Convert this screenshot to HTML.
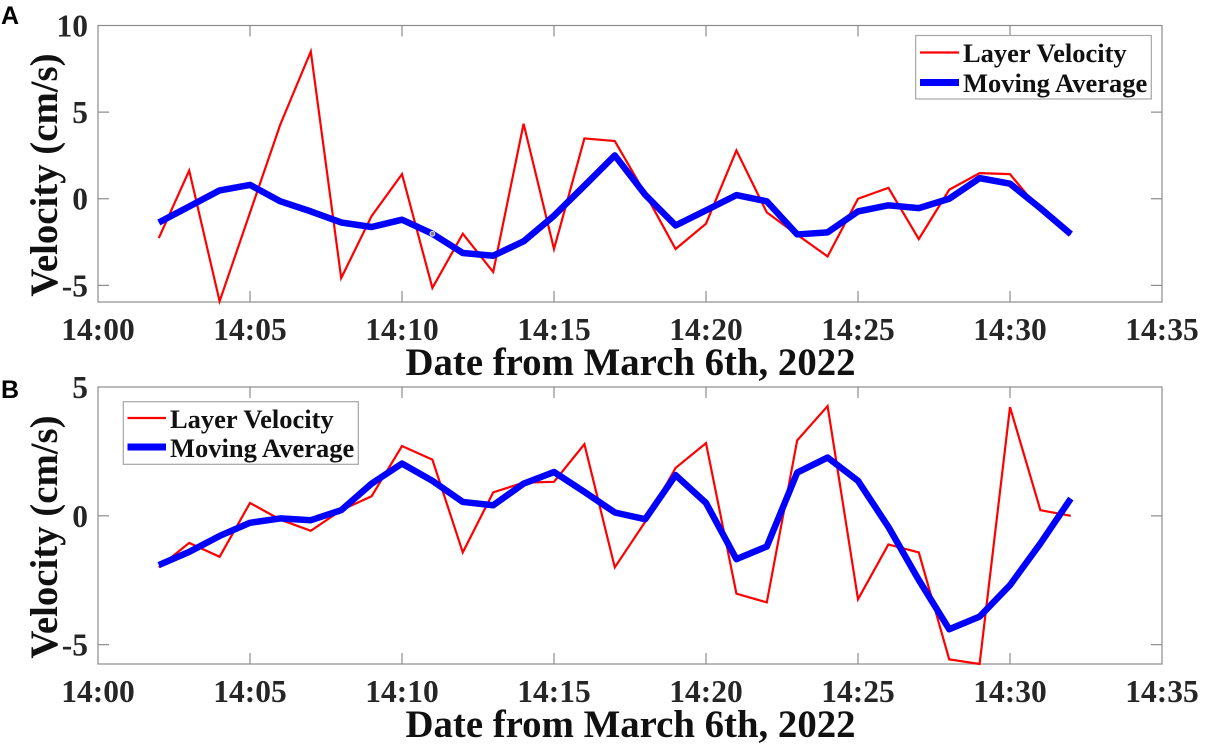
<!DOCTYPE html>
<html>
<head>
<meta charset="utf-8">
<title>Layer velocity and moving average</title>
<style>
html,body{margin:0;padding:0;background:#fff;}
svg{display:block;}
text{font-family:"Liberation Serif",serif;font-weight:bold;}
.tick{font-size:31.5px;fill:#262626;}
.title{font-size:38.8px;fill:#111;}
.legend{font-size:26.5px;fill:#111;}
.panel{font-family:"Liberation Sans",sans-serif;font-size:25px;fill:#000;}
</style>
</head>
<body>
<svg id="figure" width="1211" height="747" viewBox="0 0 1211 747" xmlns="http://www.w3.org/2000/svg">
  <rect x="0" y="0" width="1211" height="747" fill="#fff"/>
  <text class="panel" x="1" y="24">A</text>
  <text class="panel" x="1" y="398">B</text>

  <g id="plotA"></g>
  <g id="plotB"></g>

  <text class="title" x="630.5" y="375" text-anchor="middle">Date from March 6th, 2022</text>
  <text class="title" transform="translate(57 175) rotate(-90)" text-anchor="middle">Velocity (cm/s)</text>
  <text class="title" x="630.5" y="737" text-anchor="middle">Date from March 6th, 2022</text>
  <text class="title" transform="translate(57 537) rotate(-90)" text-anchor="middle">Velocity (cm/s)</text>

  <g>
    <rect x="915.7" y="35.5" width="235.6" height="63.5" fill="#fff" stroke="#a6a6a6" stroke-width="1.2"/>
    <line x1="920" y1="52.5" x2="959" y2="52.5" stroke="#f00" stroke-width="2.2"/>
    <text class="legend" x="963" y="62">Layer Velocity</text>
    <line x1="920" y1="82.5" x2="959" y2="82.5" stroke="#00f" stroke-width="7"/>
    <text class="legend" x="963" y="92">Moving Average</text>
  </g>
  <g>
    <rect x="123.3" y="401.7" width="235" height="62.6" fill="#fff" stroke="#a6a6a6" stroke-width="1.2"/>
    <line x1="127.5" y1="418" x2="166" y2="418" stroke="#f00" stroke-width="2.2"/>
    <text class="legend" x="170" y="428">Layer Velocity</text>
    <line x1="127.5" y1="447" x2="166" y2="447" stroke="#00f" stroke-width="7"/>
    <text class="legend" x="170" y="457">Moving Average</text>
  </g>
</svg>
<script>
var minutes = [2,3,4,5,6,7,8,9,10,11,12,13,14,15,16,17,18,19,20,21,22,23,24,25,26,27,28,29,30,31,32];
var xTickValues = [0,5,10,15,20,25,30,35];
var xTickLabels = ["14:00","14:05","14:10","14:15","14:20","14:25","14:30","14:35"];
var xDomain = [0,35];

var layerVelocityA = [-2.27,1.63,-5.92,-0.8,4.3,8.5,-4.58,-1.0,1.42,-5.15,-2.02,-4.23,4.33,-2.9,3.48,3.33,0.3,-2.9,-1.44,2.79,-0.79,-2.08,-3.33,0,0.63,-2.33,0.52,1.48,1.42,-0.7,-2.08];
var movingAverageA = [-1.37,-0.45,0.48,0.8,-0.15,-0.73,-1.37,-1.63,-1.21,-2.02,-3.13,-3.29,-2.46,-0.98,0.75,2.5,0.23,-1.54,-0.67,0.21,-0.15,-2.06,-1.94,-0.73,-0.38,-0.54,0,1.19,0.87,-0.55,-2.04];
var yTickValuesA = [-5,0,5,10];
var yTickLabelsA = ["-5","0","5","10"];
var yDomainA = [-5.96,10];

var layerVelocityB = [-2.0,-1.05,-1.59,0.5,-0.15,-0.58,0.22,0.76,2.71,2.18,-1.42,0.91,1.29,1.32,2.78,-2.0,-0.23,1.86,2.82,-3.02,-3.36,2.93,4.26,-3.24,-1.11,-1.42,-5.57,-5.75,4.22,0.22,0];
var movingAverageB = [-1.91,-1.4,-0.78,-0.27,-0.1,-0.17,0.22,1.25,2.03,1.36,0.54,0.41,1.25,1.7,0.93,0.13,-0.13,1.58,0.5,-1.68,-1.19,1.68,2.26,1.36,-0.43,-2.49,-4.4,-3.91,-2.69,-1.07,0.67];
var yTickValuesB = [-5,0,5];
var yTickLabelsB = ["-5","0","5"];
var yDomainB = [-5.75,5];

var NS = "http://www.w3.org/2000/svg";
var AXIS_COLOR = "#8c8c8c";

function make(tag, attrs, parent) {
  var el = document.createElementNS(NS, tag);
  for (var k in attrs) el.setAttribute(k, attrs[k]);
  parent.appendChild(el);
  return el;
}

function drawPanel(parent, box, yDomain, yTicks, yLabels, red, blue, prefix, baselineOffset) {
  function xScale(m) {
    return box.left + (m - xDomain[0]) / (xDomain[1] - xDomain[0]) * (box.right - box.left);
  }
  function yScale(v) {
    return box.bottom - (v - yDomain[0]) / (yDomain[1] - yDomain[0]) * (box.bottom - box.top);
  }

  var frame = make("rect", {x: box.left, y: box.top, width: box.right - box.left, height: box.bottom - box.top, fill: "#fff", stroke: AXIS_COLOR, "stroke-width": 1.2}, parent);
  
  

  xTickValues.forEach(function (m, i) {
    var x = xScale(m);
    if (i > 0 && i < xTickValues.length - 1) {
      var top = make("line", {x1: x, x2: x, y1: box.top, y2: box.top + 11, stroke: AXIS_COLOR, "stroke-width": 1.2}, parent);
      
      
      var bottom = make("line", {x1: x, x2: x, y1: box.bottom, y2: box.bottom - 11, stroke: AXIS_COLOR, "stroke-width": 1.2}, parent);
      
      
    }
    var label = make("text", {x: x, y: box.bottom + baselineOffset, "text-anchor": "middle", "class": "tick"}, parent);
    label.textContent = xTickLabels[i];
    
    
  });

  yTicks.forEach(function (v, i) {
    var y = yScale(v);
    if (y > box.top + 1) {
      var left = make("line", {x1: box.left, x2: box.left + 11, y1: y, y2: y, stroke: AXIS_COLOR, "stroke-width": 1.2}, parent);
      
      
      var right = make("line", {x1: box.right, x2: box.right - 11, y1: y, y2: y, stroke: AXIS_COLOR, "stroke-width": 1.2}, parent);
      
      
    }
    var label = make("text", {x: box.left - 10, y: y + 11, "text-anchor": "end", "class": "tick"}, parent);
    label.textContent = yLabels[i];
    
    
  });

  function points(values) {
    return values.map(function (v, i) {
      return xScale(minutes[i]).toFixed(2) + "," + yScale(v).toFixed(2);
    }).join(" ");
  }

  var redLine = make("polyline", {points: points(red), fill: "none", stroke: "#f00", "stroke-width": 2.2, "stroke-linejoin": "miter"}, parent);
  
  

  var blueLine = make("polyline", {points: points(blue), fill: "none", stroke: "#00f", "stroke-width": 6.5, "stroke-linejoin": "round"}, parent);
  
  

  return {x: xScale, y: yScale};
}

var scalesA = drawPanel(document.getElementById("plotA"), {left: 98, right: 1162, top: 25.5, bottom: 302}, yDomainA, yTickValuesA, yTickLabelsA, layerVelocityA, movingAverageA, "panel-a", 38);
drawPanel(document.getElementById("plotB"), {left: 98, right: 1162, top: 387, bottom: 664}, yDomainB, yTickValuesB, yTickLabelsB, layerVelocityB, movingAverageB, "panel-b", 38);

var speck = make("circle", {cx: scalesA.x(minutes[9]), cy: scalesA.y(movingAverageA[9]), r: 2.4, fill: "#808080", stroke: "#e8e8e8", "stroke-width": 1}, document.getElementById("plotA"));


</script>
</body>
</html>
